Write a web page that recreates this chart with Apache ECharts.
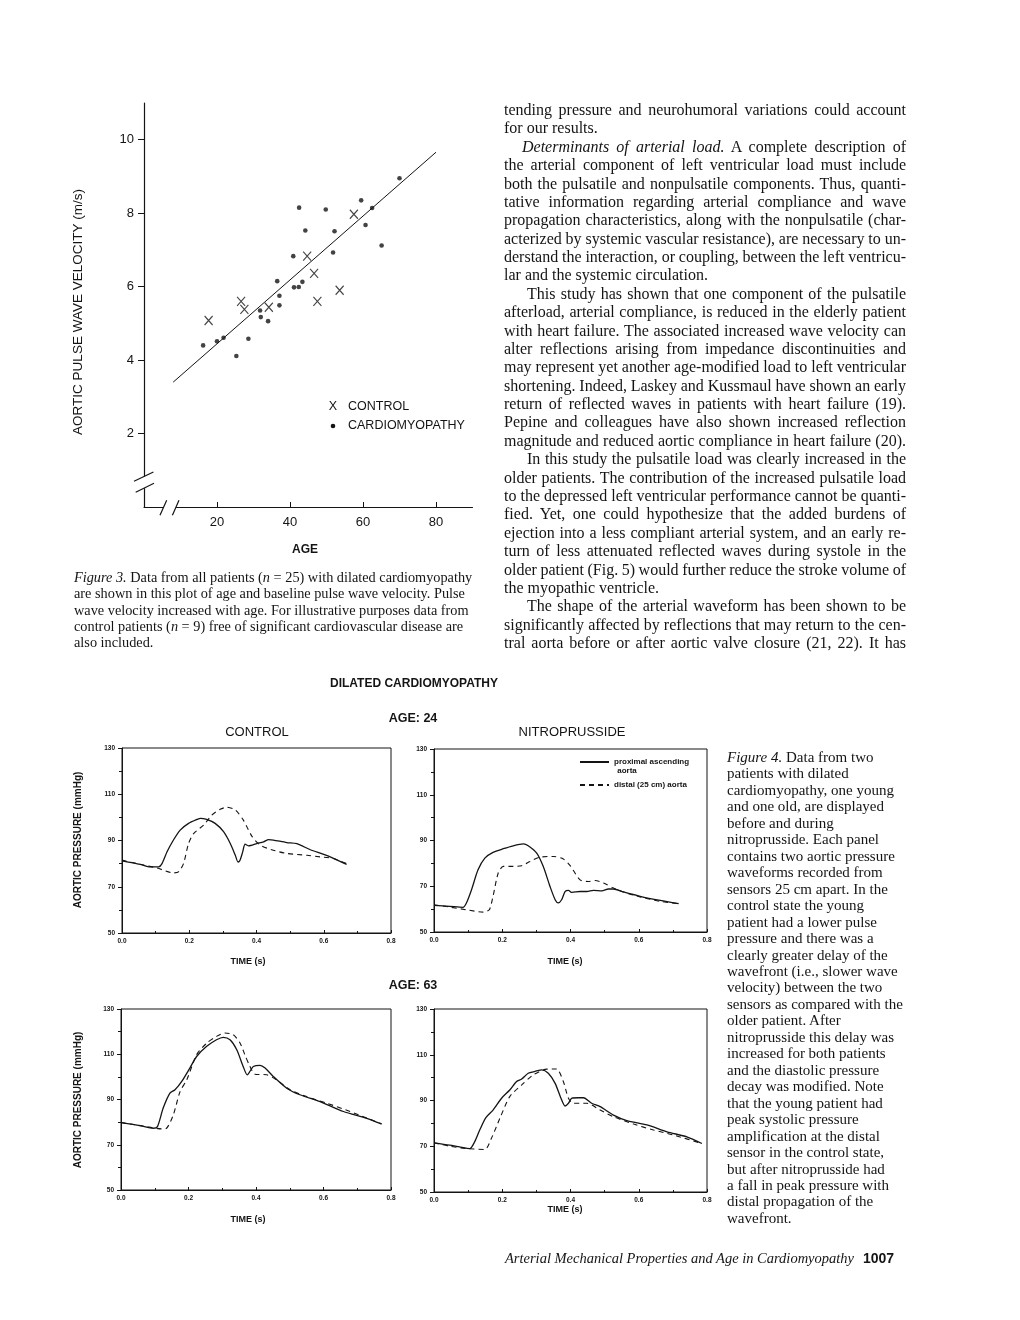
<!DOCTYPE html>
<html><head><meta charset="utf-8">
<script src="https://cdn.jsdelivr.net/npm/echarts@6/dist/echarts.min.js"></script>
<style>
html,body{margin:0;padding:0;background:#fff;}
#chart{position:absolute;left:0;top:0;width:1020px;height:1320px;}
.t{position:absolute;white-space:pre;font-family:"Liberation Serif","Times New Roman",serif;color:#141414;}
.b{font-family:"Liberation Sans",Arial,sans-serif;font-weight:bold;}
</style></head>
<body>
<div id="chart"></div>
<div id="txt"></div>
<script>
// ---------- Figure 3 data ----------
const cardioAge = [16.2,20,21.8,25.3,28.6,31.8,32,34,36.5,37.1,37.1,40.9,41.1,42.4,42.5,43.4,44.2,49.8,51.8,52.2,59.5,62.5,60.7,65.1,70];
const cardioPWV = [4.40,4.51,4.61,4.11,4.58,5.35,5.17,5.06,6.15,5.75,5.49,6.83,5.98,5.99,8.15,6.13,7.53,8.10,6.93,7.51,8.35,8.14,7.68,7.12,8.95];
const controlAge = [17.7,26.6,27.5,34.2,44.7,46.6,47.5,53.6,57.5];
const controlPWV = [5.08,5.60,5.38,5.44,6.83,6.36,5.60,5.90,7.97];
const fitLine = [[8,3.4],[80,9.66]];
const ageTicks = [20,40,60,80];
const pwvTicks = [2,4,6,8,10];

// ---------- Figure 4 data (time s, pressure mmHg) ----------
const young_ctrl_prox = [[0,81.2],[0.054,79.7],[0.084,78.6],[0.109,78.6],[0.119,80.0],[0.134,85.1],[0.153,90.2],[0.173,94.5],[0.198,97.4],[0.223,99.1],[0.233,99.6],[0.252,99.1],[0.277,97.4],[0.302,93.8],[0.322,88.7],[0.337,83.6],[0.345,80.7],[0.351,81.5],[0.359,85.1],[0.366,88.4],[0.376,87.7],[0.401,88.7],[0.421,89.4],[0.436,90.4],[0.450,90.2],[0.490,89.1],[0.520,88.6],[0.560,86.0],[0.600,84.0],[0.629,82.3],[0.668,79.7]];
const young_ctrl_dist = [[0,81.5],[0.054,79.7],[0.104,78.1],[0.153,76.0],[0.168,76.4],[0.183,80.0],[0.198,88.7],[0.213,93.0],[0.243,96.7],[0.267,101.0],[0.292,103.5],[0.312,104.4],[0.337,103.2],[0.361,98.8],[0.386,91.9],[0.411,88.0],[0.450,85.8],[0.490,84.4],[0.550,83.6],[0.589,82.9],[0.629,82.2],[0.668,80.0]];
const young_nitro_prox = [[0,61.6],[0.046,61.2],[0.085,60.8],[0.095,62.7],[0.110,68.5],[0.129,77.2],[0.149,82.3],[0.173,84.8],[0.203,86.4],[0.232,87.7],[0.262,88.5],[0.276,87.7],[0.301,84.5],[0.320,78.7],[0.340,69.9],[0.355,64.1],[0.364,62.7],[0.374,64.1],[0.384,67.7],[0.394,68.2],[0.404,67.3],[0.428,67.7],[0.448,67.7],[0.467,68.2],[0.492,68.0],[0.511,68.8],[0.526,68.8],[0.555,67.5],[0.604,65.6],[0.663,63.8],[0.717,62.4]];
const young_nitro_dist = [[0,61.9],[0.046,60.9],[0.095,59.7],[0.144,58.7],[0.162,59.7],[0.173,65.6],[0.188,75.7],[0.203,78.7],[0.232,78.7],[0.257,79.0],[0.281,80.8],[0.310,82.7],[0.350,83.0],[0.379,81.9],[0.399,79.0],[0.428,72.8],[0.452,72.1],[0.472,72.5],[0.497,71.4],[0.526,69.2],[0.565,67.0],[0.604,65.3],[0.663,63.4],[0.717,62.4]];
const old_ctrl_prox = [[0,79.8],[0.056,78.5],[0.096,77.3],[0.108,78.0],[0.125,86.2],[0.145,92.8],[0.160,94.3],[0.180,98.0],[0.204,103.9],[0.224,109.0],[0.254,113.5],[0.283,116.4],[0.303,117.5],[0.323,116.4],[0.343,112.0],[0.362,104.6],[0.374,100.9],[0.382,102.4],[0.392,104.6],[0.412,105.1],[0.427,103.9],[0.451,100.2],[0.491,95.0],[0.530,92.1],[0.590,89.1],[0.659,84.7],[0.728,81.7],[0.772,79.2]];
const old_ctrl_dist = [[0,79.8],[0.076,78.0],[0.120,77.0],[0.135,77.3],[0.155,83.2],[0.175,93.5],[0.195,98.7],[0.224,109.8],[0.254,114.9],[0.283,117.9],[0.308,119.4],[0.333,118.6],[0.353,114.9],[0.367,109.8],[0.380,105.3],[0.397,101.2],[0.432,100.9],[0.461,98.7],[0.501,94.3],[0.550,91.3],[0.609,88.4],[0.679,84.7],[0.772,79.2]];
const old_nitro_prox = [[0,71.5],[0.046,70.5],[0.075,69.7],[0.105,69.0],[0.119,71.9],[0.134,77.1],[0.152,82.5],[0.173,85.8],[0.198,91.0],[0.222,94.6],[0.242,98.3],[0.257,99.4],[0.276,101.9],[0.296,102.7],[0.316,103.4],[0.335,101.9],[0.355,97.5],[0.372,91.0],[0.384,87.6],[0.394,88.8],[0.404,91.0],[0.423,91.2],[0.438,91.2],[0.462,88.8],[0.487,87.3],[0.526,83.6],[0.565,81.2],[0.624,79.3],[0.683,76.3],[0.741,74.1],[0.785,71.2]];
const old_nitro_dist = [[0,71.5],[0.046,70.0],[0.095,69.0],[0.149,68.6],[0.168,73.4],[0.193,82.2],[0.222,91.7],[0.257,96.8],[0.291,101.2],[0.330,103.7],[0.359,103.8],[0.379,98.3],[0.394,91.0],[0.408,88.8],[0.448,88.8],[0.487,85.8],[0.526,82.9],[0.585,79.7],[0.643,77.1],[0.702,74.9],[0.785,71.2]];

const SANS = '"Liberation Sans", Arial, Helvetica, sans-serif';
const INK = '#141414';

const chart = echarts.init(document.getElementById('chart'), null, {renderer:'canvas'});

function panelX(gi){
  return {type:'value', gridIndex:gi, min:0, max:0.8, interval:0.2,
    axisLine:{show:true, lineStyle:{color:INK, width:1}},
    axisTick:{show:true, inside:true, length:3, lineStyle:{color:INK}},
    minorTick:{show:true, splitNumber:2, length:2, lineStyle:{color:INK}},
    splitLine:{show:false},
    axisLabel:{fontSize:6.5, fontWeight:'bold', fontFamily:SANS, color:INK, margin:5, formatter:v=>v.toFixed(1)}};
}
function panelY(gi){
  return {type:'value', gridIndex:gi, min:50, max:130, interval:20,
    axisLine:{show:true, lineStyle:{color:INK, width:1}},
    axisTick:{show:true, inside:false, length:4, lineStyle:{color:INK}},
    minorTick:{show:true, splitNumber:2, length:3, lineStyle:{color:INK}},
    splitLine:{show:false},
    axisLabel:{fontSize:6.5, fontWeight:'bold', fontFamily:SANS, color:INK, margin:7}};
}
function solid(name, gi, data){
  return {type:'line', name, xAxisIndex:gi, yAxisIndex:gi, data, symbol:'none', smooth:0.25,
    lineStyle:{color:INK, width:1.3, type:'solid'}, itemStyle:{color:INK}};
}
function dashed(name, gi, data){
  return {type:'line', name, xAxisIndex:gi, yAxisIndex:gi, data, symbol:'none', smooth:0.25,
    lineStyle:{color:INK, width:1.1, type:[5,4]}, itemStyle:{color:INK}};
}
const PROX = 'proximal ascending aorta', DIST = 'distal (25 cm) aorta';
const frame = {show:true, borderColor:INK, borderWidth:1, backgroundColor:'transparent', outerBoundsMode:'none'};

const option = {
  animation:false,
  backgroundColor:'#fff',
  grid:[
    {left:144, top:103, width:328.5, height:404, outerBoundsMode:'none'},
    Object.assign({left:122, top:748, width:269, height:185}, frame),
    Object.assign({left:434, top:749, width:273, height:183}, frame),
    Object.assign({left:121, top:1009, width:270, height:181}, frame),
    Object.assign({left:434, top:1009, width:273, height:183}, frame)
  ],
  xAxis:[
    {type:'value', gridIndex:0, min:0, max:90,
      axisLine:{show:true, lineStyle:{color:INK, width:1.2}},
      axisTick:{show:true, inside:true, length:5, customValues:ageTicks, lineStyle:{color:INK}},
      splitLine:{show:false},
      axisLabel:{customValues:ageTicks, fontSize:13, fontFamily:SANS, color:INK, margin:9}},
    panelX(1), panelX(2), panelX(3), panelX(4)
  ],
  yAxis:[
    {type:'value', gridIndex:0, min:0, max:11,
      axisLine:{show:true, lineStyle:{color:INK, width:1.2}},
      axisTick:{show:true, inside:false, length:6, customValues:pwvTicks, lineStyle:{color:INK}},
      splitLine:{show:false},
      axisLabel:{customValues:pwvTicks, fontSize:13, fontFamily:SANS, color:INK, margin:10}},
    panelY(1), panelY(2), panelY(3), panelY(4)
  ],
  legend:{
    data:[PROX, DIST], orient:'vertical', left:579, top:758, padding:0, itemWidth:29, itemHeight:8, itemGap:15,
    selectedMode:false, formatter:n => n === PROX ? 'proximal ascending' : n,
    itemStyle:{opacity:0},
    textStyle:{fontSize:8, fontWeight:'bold', fontFamily:SANS, color:INK}
  },
  series:[
    {type:'scatter', name:'CARDIOMYOPATHY', xAxisIndex:0, yAxisIndex:0,
      data:cardioAge.map((a,i)=>[a, cardioPWV[i]]), symbol:'circle', symbolSize:4.6,
      itemStyle:{color:INK}},
    {type:'scatter', name:'CONTROL', xAxisIndex:0, yAxisIndex:0,
      data:controlAge.map((a,i)=>[a, controlPWV[i]]), symbol:'path://M0,0L10,11M10,0L0,11', symbolSize:[8,9],
      itemStyle:{color:'transparent', borderColor:INK, borderWidth:1.2}},
    {type:'line', name:'fit', xAxisIndex:0, yAxisIndex:0, data:fitLine, symbol:'none',
      lineStyle:{color:INK, width:1}},
    solid(PROX,1,young_ctrl_prox), dashed(DIST,1,young_ctrl_dist),
    solid(PROX,2,young_nitro_prox), dashed(DIST,2,young_nitro_dist),
    solid(PROX,3,old_ctrl_prox), dashed(DIST,3,old_ctrl_dist),
    solid(PROX,4,old_nitro_prox), dashed(DIST,4,old_nitro_dist)
  ]
};
chart.setOption(option);

// ---------- labels & decorations ----------
function txt(s, x, y, font, opt){
  opt = opt || {};
  const al = opt.align || 'center';
  return {type:'text', x, y, rotation:opt.rot || 0, z:100,
    style:{text:s, font, fill:INK, align:al, textAlign:al, verticalAlign:'middle', textVerticalAlign:'middle'}};
}
const o = chart.convertToPixel({gridIndex:0}, [0,0]);
const ox = o[0], oy = o[1];
const ls = {stroke:INK, lineWidth:1.2};
const g = [
  txt('AORTIC PULSE WAVE VELOCITY (m/s)', 78, 312, '13.5px ' + SANS, {rot:Math.PI/2}),
  txt('AGE', 305, 550, 'bold 12px ' + SANS),
  txt('X', 333, 407, '12.5px ' + SANS),
  txt('CONTROL', 348, 407, '12.5px ' + SANS, {align:'left'}),
  {type:'circle', z:100, shape:{cx:333, cy:426, r:2.3}, style:{fill:INK}},
  txt('CARDIOMYOPATHY', 348, 426, '12.5px ' + SANS, {align:'left'}),
  // axis breaks
  {type:'rect', z:90, shape:{x:ox-3, y:oy-30.5, width:6, height:11.7}, style:{fill:'#fff'}},
  {type:'line', z:95, shape:{x1:ox-10, y1:oy-25.7, x2:ox+9.4, y2:oy-35}, style:ls},
  {type:'line', z:95, shape:{x1:ox-8.3, y1:oy-14.7, x2:ox+10, y2:oy-23.7}, style:ls},
  {type:'rect', z:90, shape:{x:ox+19.7, y:oy-3, width:12.4, height:6}, style:{fill:'#fff'}},
  {type:'line', z:95, shape:{x1:ox+16, y1:oy+8.3, x2:ox+22.7, y2:oy-6.7}, style:ls},
  {type:'line', z:95, shape:{x1:ox+28.4, y1:oy+8.3, x2:ox+35, y2:oy-6.7}, style:ls},
  // Figure 4 headings
  txt('DILATED CARDIOMYOPATHY', 414, 684, 'bold 12px ' + SANS),
  txt('AGE: 24', 413, 719, 'bold 12.5px ' + SANS),
  txt('CONTROL', 257, 732, '13px ' + SANS),
  txt('NITROPRUSSIDE', 572, 732, '13px ' + SANS),
  txt('AGE: 63', 413, 986, 'bold 12.5px ' + SANS),
  txt('AORTIC PRESSURE (mmHg)', 78, 840, 'bold 10px ' + SANS, {rot:Math.PI/2}),
  txt('AORTIC PRESSURE (mmHg)', 78, 1100, 'bold 10px ' + SANS, {rot:Math.PI/2}),
  txt('TIME (s)', 248, 962, 'bold 9px ' + SANS),
  txt('TIME (s)', 565, 962, 'bold 9px ' + SANS),
  txt('TIME (s)', 248, 1220, 'bold 9px ' + SANS),
  txt('TIME (s)', 565, 1210, 'bold 9px ' + SANS),
  txt(' aorta', 615, 771, 'bold 8px ' + SANS, {align:'left'})
];
chart.setOption({graphic:{elements:g}});

// ---------- prose (HTML text) ----------
const box = document.getElementById('txt');
function line(html, left, yc, size, lh, width){
  const d = document.createElement('div');
  d.className = 't';
  d.style.left = left + 'px';
  d.style.fontSize = size + 'px';
  d.style.lineHeight = lh + 'px';
  d.style.top = (yc - lh/2 - 1) + 'px';
  d.innerHTML = html;
  box.appendChild(d);
  if (width) {
    const w = d.getBoundingClientRect().width;
    const n = (d.textContent.match(/ /g) || []).length;
    if (n > 0) d.style.wordSpacing = ((width - w) / n) + 'px';
  }
  return d;
}

const bodyLines = [
  ['tending pressure and neurohumoral variations could account', 0, 1],
  ['for our results.', 0, 0],
  ['<i>Determinants of arterial load.</i> A complete description of', 18, 1],
  ['the arterial component of left ventricular load must include', 0, 1],
  ['both the pulsatile and nonpulsatile components. Thus, quanti-', 0, 1],
  ['tative information regarding arterial compliance and wave', 0, 1],
  ['propagation characteristics, along with the nonpulsatile (char-', 0, 1],
  ['acterized by systemic vascular resistance), are necessary to un-', 0, 1],
  ['derstand the interaction, or coupling, between the left ventricu-', 0, 1],
  ['lar and the systemic circulation.', 0, 0],
  ['This study has shown that one component of the pulsatile', 23, 1],
  ['afterload, arterial compliance, is reduced in the elderly patient', 0, 1],
  ['with heart failure. The associated increased wave velocity can', 0, 1],
  ['alter reflections arising from impedance discontinuities and', 0, 1],
  ['may represent yet another age-modified load to left ventricular', 0, 1],
  ['shortening. Indeed, Laskey and Kussmaul have shown an early', 0, 1],
  ['return of reflected waves in patients with heart failure (19).', 0, 1],
  ['Pepine and colleagues have also shown increased reflection', 0, 1],
  ['magnitude and reduced aortic compliance in heart failure (20).', 0, 1],
  ['In this study the pulsatile load was clearly increased in the', 23, 1],
  ['older patients. The contribution of the increased pulsatile load', 0, 1],
  ['to the depressed left ventricular performance cannot be quanti-', 0, 1],
  ['fied. Yet, one could hypothesize that the added burdens of', 0, 1],
  ['ejection into a less compliant arterial system, and an early re-', 0, 1],
  ['turn of less attenuated reflected waves during systole in the', 0, 1],
  ['older patient (Fig. 5) would further reduce the stroke volume of', 0, 1],
  ['the myopathic ventricle.', 0, 0],
  ['The shape of the arterial waveform has been shown to be', 23, 1],
  ['significantly affected by reflections that may return to the cen-', 0, 1],
  ['tral aorta before or after aortic valve closure (21, 22). It has', 0, 1]
];
const BL = 504, BR = 906;
bodyLines.forEach((l, i) => {
  const left = BL + l[1];
  line(l[0], left, 111 + i * 18.38, 16, 18, l[2] ? (BR - left) : 0);
});

const fig3 = [
  '<i>Figure 3.</i> Data from all patients (<i>n</i> = 25) with dilated cardiomyopathy',
  'are shown in this plot of age and baseline pulse wave velocity. Pulse',
  'wave velocity increased with age. For illustrative purposes data from',
  'control patients (<i>n</i> = 9) free of significant cardiovascular disease are',
  'also included.'
];
fig3.forEach((l, i) => line(l, 74, 578 + i * 16.3, 14.3, 16, 0));

const fig4 = [
  '<i>Figure 4.</i> Data from two', 'patients with dilated', 'cardiomyopathy, one young',
  'and one old, are displayed', 'before and during', 'nitroprusside. Each panel',
  'contains two aortic pressure', 'waveforms recorded from', 'sensors 25 cm apart. In the',
  'control state the young', 'patient had a lower pulse', 'pressure and there was a',
  'clearly greater delay of the', 'wavefront (i.e., slower wave', 'velocity) between the two',
  'sensors as compared with the', 'older patient. After', 'nitroprusside this delay was',
  'increased for both patients', 'and the diastolic pressure', 'decay was modified. Note',
  'that the young patient had', 'peak systolic pressure', 'amplification at the distal',
  'sensor in the control state,', 'but after nitroprusside had', 'a fall in peak pressure with',
  'distal propagation of the', 'wavefront.'
];
fig4.forEach((l, i) => line(l, 727, 758 + i * 16.46, 15, 16, 0));

line('<i>Arterial Mechanical Properties and Age in Cardiomyopathy</i>', 505, 1259, 14.5, 18, 0);
line('<span class="b">1007</span>', 863, 1259, 14, 18, 0);
</script>
</body></html>
